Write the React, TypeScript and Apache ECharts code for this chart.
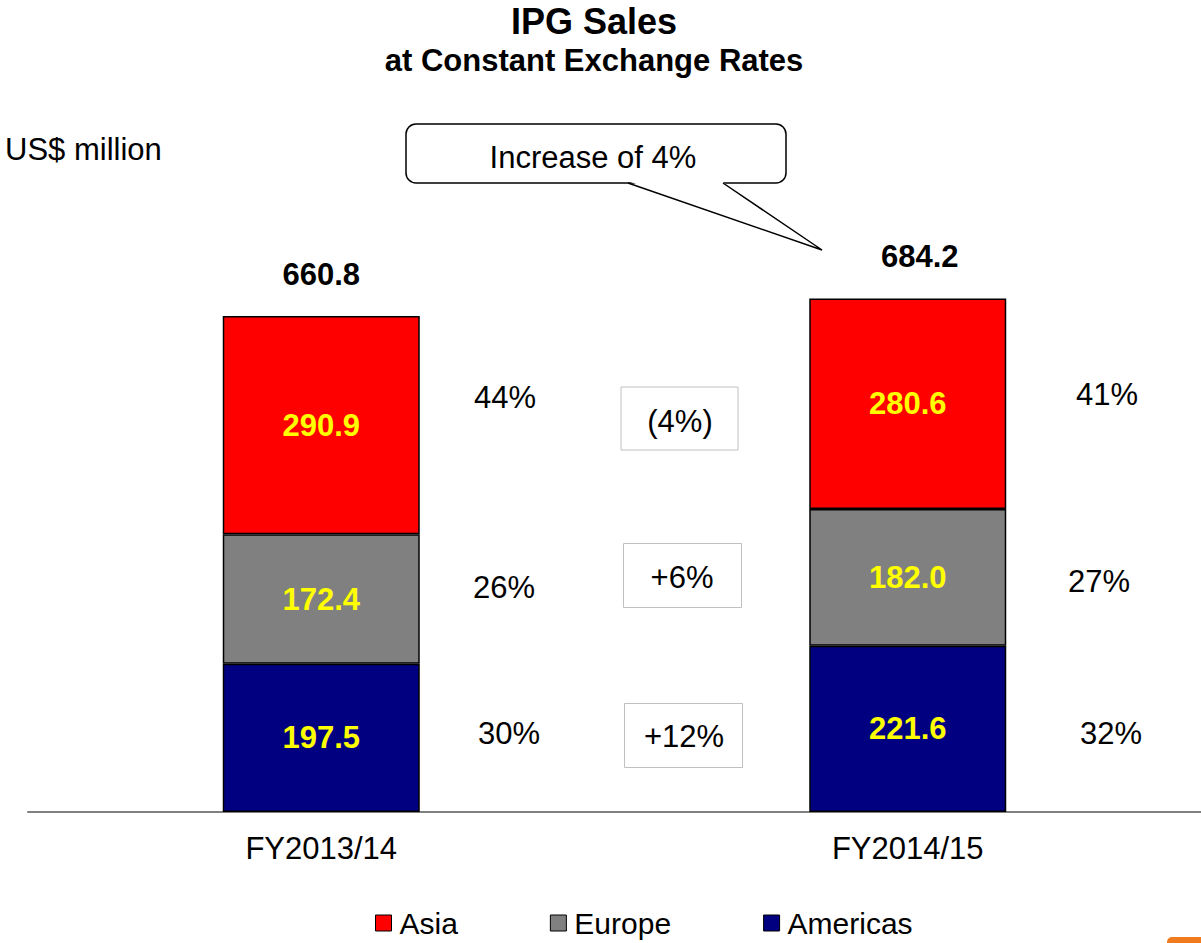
import React, { useEffect, useRef } from "react";
import * as echarts from "echarts";

const categories = ["FY2013/14", "FY2014/15"];
const asia = [290.9, 280.6];
const europe = [172.4, 182.0];
const americas = [197.5, 221.6];
const totals = [660.8, 684.2];
const shareLabelsLeft = ["44%", "26%", "30%"];
const shareLabelsRight = ["41%", "27%", "32%"];
const changeLabels = ["(4%)", "+6%", "+12%"];
const calloutText = "Increase of 4%";

const FONT = "'Liberation Sans', Arial, Helvetica, sans-serif";

export default function App() {
  const ref = useRef<HTMLDivElement>(null);
  useEffect(() => {
    if (!ref.current) return;
    const chart = echarts.init(ref.current, undefined, { renderer: "svg" });
    const barLabel = {
      show: true,
      position: "inside",
      color: "#ffff00",
      fontWeight: "bold",
      fontSize: 31,
      fontFamily: FONT,
      formatter: (p: any) => Number(p.value).toFixed(1),
    };
    const barCommon = {
      type: "bar",
      stack: "total",
      barWidth: 197,
      label: barLabel,
    };
    const txt = (x: number, y: number, text: string, size: number, bold = false, align = "center") => ({
      type: "text",
      x,
      y,
      style: {
        text,
        fontSize: size,
        fontWeight: bold ? "bold" : "normal",
        fontFamily: FONT,
        fill: "#000",
        align,
        verticalAlign: "middle",
      },
    });
    const leftPos = [[505, 397], [504, 587], [509, 733]];
    const rightPos = [[1107, 394], [1099, 581], [1111, 733]];
    const boxes = [
      { x: 621, y: 387, w: 117, h: 63, tx: 680, ty: 421 },
      { x: 623.5, y: 543.5, w: 118, h: 64, tx: 682, ty: 577 },
      { x: 624.5, y: 703.5, w: 118, h: 64, tx: 684, ty: 736 },
    ];
    const totalOffsets = [0, 12];
    const graphic: any[] = [
      txt(594, 21, "IPG Sales", 36, true),
      txt(594, 60.5, "at Constant Exchange Rates", 31, true),
      txt(5, 149, "US$ million", 31, false, "left"),
      {
        type: "rect",
        shape: { x: 406, y: 124, width: 380, height: 59, r: 10 },
        style: { fill: "#fff", stroke: "#000", lineWidth: 1.5 },
      },
      {
        type: "polygon",
        shape: { points: [[629, 181.5], [822, 250], [722, 181.5]] },
        style: { fill: "#fff", stroke: null },
      },
      {
        type: "polyline",
        shape: { points: [[628, 183], [822, 250], [723, 183]] },
        style: { fill: null, stroke: "#000", lineWidth: 1.5 },
      },
      txt(593, 157, calloutText, 31),
      ...shareLabelsLeft.map((s, i) => txt(leftPos[i][0], leftPos[i][1], s, 31)),
      ...shareLabelsRight.map((s, i) => txt(rightPos[i][0], rightPos[i][1], s, 31)),
      ...boxes.map((b) => ({
        type: "rect",
        shape: { x: b.x, y: b.y, width: b.w, height: b.h },
        style: { fill: "#fff", stroke: "#c0c0c0", lineWidth: 1 },
      })),
      ...changeLabels.map((s, i) => txt(boxes[i].tx, boxes[i].ty, s, 31)),
      {
        type: "rect",
        shape: { x: 1167, y: 937, width: 40, height: 16, r: 5 },
        style: { fill: "#f07a1e" },
      },
    ];
    chart.setOption({
      animation: false,
      grid: { left: 28, width: 1175, top: 136.5, bottom: 131 },
      legend: {
        data: ["Asia", "Europe", "Americas"],
        left: 375,
        top: 908,
        padding: 0,
        itemWidth: 16,
        itemHeight: 16,
        itemGap: 92,
        icon: "rect",
        textStyle: { fontSize: 30, fontFamily: FONT, color: "#000", padding: [0, 0, 0, 3] },
        itemStyle: { borderColor: "#000", borderWidth: 1 },
      },
      xAxis: {
        type: "category",
        data: categories,
        axisLine: { lineStyle: { color: "#808080", width: 2 } },
        axisTick: { show: false },
        axisLabel: { fontSize: 31, fontFamily: FONT, color: "#000", margin: 21 },
      },
      yAxis: { type: "value", min: 0, max: 900, show: false },
      series: [
        { ...barCommon, name: "Americas", data: americas, itemStyle: { color: "#000080", borderColor: "#000", borderWidth: 1.5 } },
        { ...barCommon, name: "Europe", data: europe, itemStyle: { color: "#808080", borderColor: "#000", borderWidth: 1.5 } },
        { ...barCommon, name: "Asia", data: asia, itemStyle: { color: "#ff0000", borderColor: "#000", borderWidth: 1.5 } },
        {
          type: "custom",
          name: "Total",
          data: totals.map((v, i) => [i, v]),
          renderItem: (params: any, api: any) => {
            const i = api.value(0);
            const p = api.coord([i, api.value(1)]);
            return {
              type: "text",
              x: p[0] + totalOffsets[params.dataIndex],
              y: p[1] - 26,
              style: {
                text: Number(api.value(1)).toFixed(1),
                fontSize: 31,
                fontWeight: "bold",
                fontFamily: FONT,
                fill: "#000",
                align: "center",
                verticalAlign: "bottom",
              },
            };
          },
        },
      ],
      graphic,
    });
    return () => chart.dispose();
  }, []);
  return (
    <div
      ref={ref}
      style={{ position: "absolute", left: 0, top: 0, width: 1201, height: 943, background: "#fff" }}
    />
  );
}
